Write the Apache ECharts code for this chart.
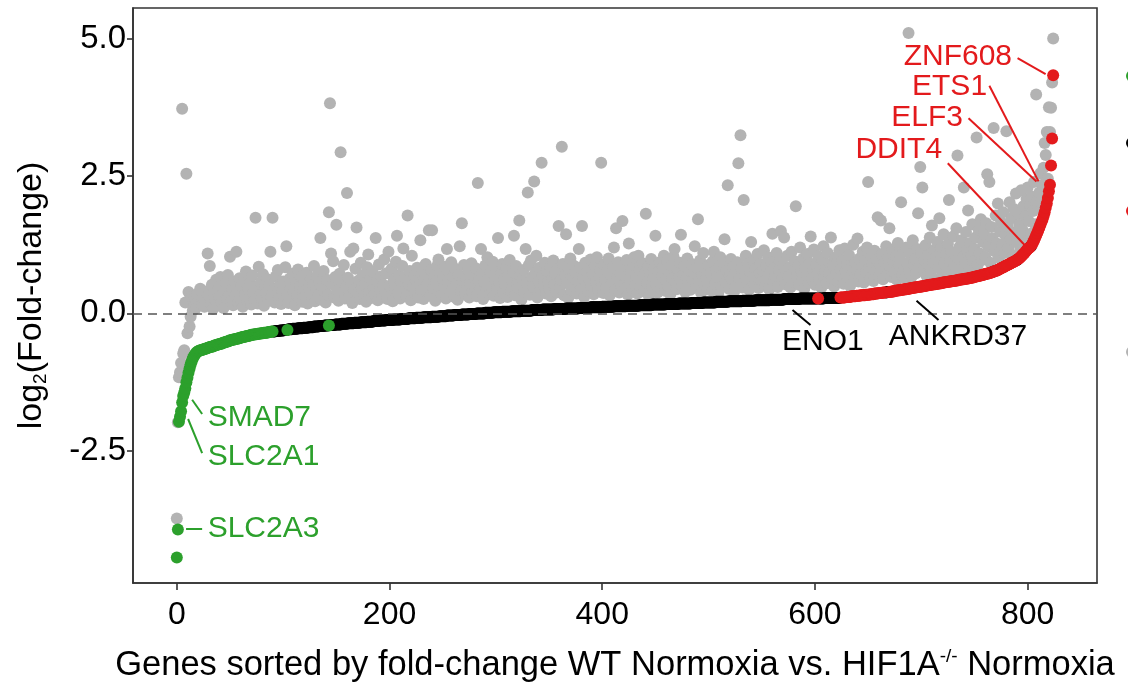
<!DOCTYPE html>
<html><head><meta charset="utf-8">
<script src="https://cdn.jsdelivr.net/npm/echarts@6/dist/echarts.min.js"></script>
<style>html,body{margin:0;padding:0;background:#fff}#c{width:1128px;height:685px}</style>
</head><body><div id="c"></div>
<script>
// log2 fold-change WT Normoxia vs HIF1A-/- Normoxia, genes sorted (rank 0..824)
const sortedFC = [
-4.44,-3.93,-1.97,-1.88,-1.78,-1.62,-1.50,-1.44,-1.36,-1.25,-1.17,-1.08,-1.00,-0.93,-0.87,-0.82,-0.78,-0.75,-0.72,-0.70,-0.69,-0.68,-0.67,-0.67,-0.66,
-0.65,-0.65,-0.64,-0.64,-0.63,-0.62,-0.61,-0.61,-0.60,-0.60,-0.59,-0.58,-0.58,-0.57,-0.56,-0.56,-0.55,-0.55,-0.54,-0.53,-0.53,-0.52,-0.51,-0.51,-0.50,
-0.49,-0.49,-0.48,-0.48,-0.47,-0.47,-0.46,-0.46,-0.45,-0.45,-0.44,-0.44,-0.43,-0.43,-0.42,-0.42,-0.41,-0.41,-0.40,-0.40,-0.39,-0.39,-0.39,-0.38,-0.38,
-0.38,-0.37,-0.37,-0.37,-0.36,-0.36,-0.36,-0.35,-0.35,-0.35,-0.35,-0.34,-0.34,-0.34,-0.33,-0.33,-0.33,-0.33,-0.32,-0.32,-0.32,-0.32,-0.31,-0.31,-0.31,
-0.31,-0.30,-0.30,-0.30,-0.30,-0.29,-0.29,-0.29,-0.29,-0.28,-0.28,-0.28,-0.28,-0.28,-0.27,-0.27,-0.27,-0.27,-0.27,-0.26,-0.26,-0.26,-0.26,-0.26,-0.25,
-0.25,-0.25,-0.25,-0.25,-0.24,-0.24,-0.24,-0.24,-0.24,-0.23,-0.23,-0.23,-0.23,-0.23,-0.22,-0.22,-0.22,-0.22,-0.22,-0.21,-0.21,-0.21,-0.21,-0.21,-0.20,
-0.20,-0.20,-0.20,-0.20,-0.20,-0.19,-0.19,-0.19,-0.19,-0.19,-0.19,-0.18,-0.18,-0.18,-0.18,-0.18,-0.18,-0.17,-0.17,-0.17,-0.17,-0.17,-0.17,-0.16,-0.16,
-0.16,-0.16,-0.16,-0.16,-0.15,-0.15,-0.15,-0.15,-0.15,-0.15,-0.14,-0.14,-0.14,-0.14,-0.14,-0.14,-0.13,-0.13,-0.13,-0.13,-0.13,-0.13,-0.12,-0.12,-0.12,
-0.12,-0.12,-0.12,-0.12,-0.11,-0.11,-0.11,-0.11,-0.11,-0.11,-0.11,-0.10,-0.10,-0.10,-0.10,-0.10,-0.10,-0.10,-0.09,-0.09,-0.09,-0.09,-0.09,-0.09,-0.09,
-0.08,-0.08,-0.08,-0.08,-0.08,-0.08,-0.08,-0.07,-0.07,-0.07,-0.07,-0.07,-0.07,-0.07,-0.07,-0.06,-0.06,-0.06,-0.06,-0.06,-0.06,-0.06,-0.05,-0.05,-0.05,
-0.05,-0.05,-0.05,-0.05,-0.04,-0.04,-0.04,-0.04,-0.04,-0.04,-0.04,-0.03,-0.03,-0.03,-0.03,-0.03,-0.03,-0.03,-0.02,-0.02,-0.02,-0.02,-0.02,-0.02,-0.02,
-0.01,-0.01,-0.01,-0.01,-0.01,-0.01,-0.01,0.00,0.00,0.00,0.00,0.00,0.00,0.00,0.00,0.01,0.01,0.01,0.01,0.01,0.01,0.01,0.01,0.02,0.02,
0.02,0.02,0.02,0.02,0.02,0.02,0.03,0.03,0.03,0.03,0.03,0.03,0.03,0.03,0.03,0.04,0.04,0.04,0.04,0.04,0.04,0.04,0.04,0.04,0.05,
0.05,0.05,0.05,0.05,0.05,0.05,0.05,0.05,0.05,0.06,0.06,0.06,0.06,0.06,0.06,0.06,0.06,0.06,0.06,0.07,0.07,0.07,0.07,0.07,0.07,
0.07,0.07,0.07,0.07,0.07,0.08,0.08,0.08,0.08,0.08,0.08,0.08,0.08,0.08,0.08,0.08,0.09,0.09,0.09,0.09,0.09,0.09,0.09,0.09,0.09,
0.09,0.09,0.09,0.10,0.10,0.10,0.10,0.10,0.10,0.10,0.10,0.10,0.10,0.10,0.11,0.11,0.11,0.11,0.11,0.11,0.11,0.11,0.11,0.11,0.11,
0.12,0.12,0.12,0.12,0.12,0.12,0.12,0.12,0.12,0.12,0.12,0.13,0.13,0.13,0.13,0.13,0.13,0.13,0.13,0.13,0.13,0.13,0.13,0.14,0.14,
0.14,0.14,0.14,0.14,0.14,0.14,0.14,0.14,0.14,0.14,0.15,0.15,0.15,0.15,0.15,0.15,0.15,0.15,0.15,0.15,0.15,0.15,0.16,0.16,0.16,
0.16,0.16,0.16,0.16,0.16,0.16,0.16,0.16,0.16,0.16,0.17,0.17,0.17,0.17,0.17,0.17,0.17,0.17,0.17,0.17,0.17,0.17,0.18,0.18,0.18,
0.18,0.18,0.18,0.18,0.18,0.18,0.18,0.18,0.18,0.19,0.19,0.19,0.19,0.19,0.19,0.19,0.19,0.19,0.19,0.19,0.20,0.20,0.20,0.20,0.20,
0.20,0.20,0.20,0.20,0.20,0.20,0.20,0.21,0.21,0.21,0.21,0.21,0.21,0.21,0.21,0.21,0.21,0.21,0.21,0.22,0.22,0.22,0.22,0.22,0.22,
0.22,0.22,0.22,0.22,0.22,0.22,0.22,0.23,0.23,0.23,0.23,0.23,0.23,0.23,0.23,0.23,0.23,0.23,0.23,0.24,0.24,0.24,0.24,0.24,0.24,
0.24,0.24,0.24,0.24,0.24,0.24,0.24,0.24,0.25,0.25,0.25,0.25,0.25,0.25,0.25,0.25,0.25,0.25,0.25,0.25,0.25,0.26,0.26,0.26,0.26,
0.26,0.26,0.26,0.26,0.26,0.26,0.26,0.26,0.26,0.26,0.26,0.27,0.27,0.27,0.27,0.27,0.27,0.27,0.27,0.27,0.27,0.27,0.27,0.27,0.27,
0.27,0.27,0.27,0.27,0.27,0.27,0.27,0.27,0.27,0.28,0.28,0.28,0.28,0.28,0.28,0.28,0.28,0.28,0.28,0.28,0.28,0.28,0.28,0.28,0.29,
0.29,0.29,0.29,0.29,0.30,0.30,0.30,0.30,0.30,0.31,0.31,0.31,0.31,0.31,0.32,0.32,0.32,0.32,0.33,0.33,0.33,0.33,0.33,0.34,0.34,
0.34,0.34,0.35,0.35,0.35,0.35,0.36,0.36,0.36,0.36,0.37,0.37,0.37,0.37,0.38,0.38,0.38,0.38,0.39,0.39,0.39,0.39,0.40,0.40,0.40,
0.41,0.41,0.41,0.42,0.42,0.42,0.43,0.43,0.43,0.44,0.44,0.44,0.45,0.45,0.45,0.46,0.46,0.46,0.47,0.47,0.47,0.48,0.48,0.48,0.49,
0.49,0.49,0.50,0.50,0.50,0.51,0.51,0.51,0.52,0.52,0.52,0.53,0.53,0.53,0.54,0.54,0.54,0.55,0.55,0.55,0.56,0.56,0.56,0.57,0.57,
0.57,0.58,0.58,0.58,0.59,0.59,0.59,0.60,0.60,0.60,0.61,0.61,0.61,0.62,0.62,0.62,0.63,0.63,0.63,0.64,0.64,0.65,0.65,0.65,0.66,
0.66,0.67,0.67,0.68,0.68,0.69,0.69,0.70,0.70,0.71,0.71,0.72,0.72,0.73,0.73,0.74,0.75,0.75,0.76,0.77,0.77,0.78,0.79,0.80,0.81,
0.82,0.83,0.84,0.85,0.86,0.87,0.88,0.89,0.90,0.91,0.92,0.93,0.94,0.95,0.96,0.97,0.99,1.00,1.02,1.04,1.06,1.08,1.10,1.12,1.15,
1.17,1.19,1.20,1.22,1.25,1.29,1.33,1.37,1.42,1.46,1.51,1.56,1.61,1.66,1.71,1.77,1.84,1.92,2.00,2.10,2.22,2.34,2.69,3.18,4.33
];
// log2 fold-change of the same genes in the second comparison (grey points)
const otherFC = [
-3.73,-1.98,-1.16,-1.07,-0.90,3.72,-0.73,-0.67,0.20,2.54,-0.36,0.39,-0.24,-0.06,0.30,0.05,0.12,0.28,0.10,0.35,0.22,0.18,0.45,0.30,0.15,
0.28,0.12,0.40,0.22,1.09,0.33,0.86,0.18,0.52,0.08,0.36,0.25,0.61,0.14,0.44,0.30,0.66,0.20,0.48,0.10,0.38,0.57,0.26,0.70,0.34,
1.03,0.22,0.45,0.15,0.58,0.31,1.12,0.40,0.19,0.64,0.27,0.50,0.12,0.60,0.35,0.76,0.21,0.47,0.29,0.55,0.16,0.69,0.38,0.24,1.74,
0.42,0.18,0.85,0.33,0.56,0.26,0.71,0.14,0.48,0.37,0.62,0.23,0.51,1.12,0.30,1.74,0.44,0.20,0.67,0.35,0.79,0.28,0.53,0.17,0.41,
0.58,0.25,0.84,1.22,0.36,0.19,0.63,0.45,0.29,0.72,0.38,0.15,0.55,0.32,0.80,0.24,0.49,0.66,0.21,0.43,0.58,0.31,0.74,0.18,0.47,
0.35,0.62,0.27,0.51,0.86,0.22,0.44,0.69,0.33,0.57,1.37,0.25,0.48,0.77,0.39,0.20,0.61,0.34,1.84,3.82,1.09,0.53,0.95,0.29,0.66,
1.61,0.41,0.23,0.72,2.93,0.36,0.58,0.88,0.27,0.49,2.19,0.65,0.31,1.12,0.54,0.19,1.18,0.43,0.81,1.56,0.37,0.60,0.26,0.92,0.46,
0.70,0.32,0.55,0.21,0.84,1.07,0.40,0.63,0.28,0.76,0.47,0.35,1.37,0.59,0.24,0.89,0.44,0.67,0.30,0.52,0.98,0.38,0.73,0.26,1.12,
0.50,0.33,0.81,0.22,0.61,0.45,0.94,1.41,0.37,0.70,0.27,0.56,0.86,1.18,0.42,0.65,0.31,1.78,0.53,0.77,0.24,1.05,0.48,0.68,0.36,
0.59,0.83,0.29,0.51,1.33,0.41,0.72,0.26,0.63,0.90,0.38,0.55,1.51,0.32,0.79,1.51,0.46,0.66,0.23,0.58,0.87,0.98,0.40,0.71,0.34,
0.62,0.48,0.85,0.27,1.17,0.56,0.74,0.36,0.93,0.44,0.67,0.30,0.81,0.52,0.25,0.70,1.22,0.41,1.64,0.59,0.88,0.34,0.63,0.47,0.78,
0.29,0.55,0.91,0.39,0.68,0.50,0.82,0.31,2.37,0.60,0.45,1.17,0.73,0.26,0.57,0.87,0.42,1.02,0.64,0.35,0.76,0.49,0.94,0.32,0.61,
0.80,0.44,1.37,0.58,0.28,0.71,0.90,0.37,0.63,0.52,0.84,0.30,0.67,0.97,0.41,0.59,0.75,1.41,0.33,0.86,0.54,0.46,1.69,0.69,0.25,
0.62,0.79,0.40,1.17,0.55,2.20,0.88,0.34,0.96,0.66,0.48,2.40,0.73,1.05,0.29,0.59,0.83,0.43,2.74,0.68,0.51,0.92,0.36,0.77,0.57,
0.45,0.85,0.31,0.64,0.96,0.52,0.72,0.38,0.81,1.59,0.47,0.61,3.03,0.90,0.33,0.70,1.44,0.55,0.28,0.78,1.00,0.42,0.66,0.87,0.50,
0.74,0.36,0.59,1.17,0.83,0.44,1.59,0.67,0.30,0.92,0.54,0.76,0.40,0.63,0.98,0.49,0.71,0.35,0.86,0.57,1.02,0.43,0.68,0.80,2.74,
0.52,0.37,0.89,0.61,0.46,0.78,1.00,0.33,0.69,0.55,0.84,1.20,0.42,1.55,0.64,0.93,0.38,0.72,0.50,1.68,0.81,0.45,0.66,0.97,0.34,
1.27,0.58,0.75,0.43,0.88,1.02,0.52,0.67,0.36,1.05,0.79,0.48,0.62,0.91,0.40,0.73,1.81,0.56,0.85,0.31,0.70,0.99,0.47,0.64,0.82,
1.41,0.54,0.38,0.77,0.93,0.46,0.68,0.84,1.05,0.41,0.60,0.96,0.50,0.73,0.35,0.87,0.63,1.03,1.17,0.57,0.44,0.80,0.66,0.92,1.43,
0.49,0.71,0.86,0.39,0.64,1.00,0.55,0.78,0.43,0.90,0.61,0.74,1.22,0.47,0.83,1.71,0.58,0.96,0.37,0.69,1.10,0.52,0.81,0.64,0.44,
0.88,0.60,0.73,0.41,0.95,1.12,0.53,0.79,0.66,0.36,0.85,1.02,0.48,0.71,0.92,1.35,0.57,0.77,2.33,0.45,0.68,0.99,0.62,0.84,0.40,
0.74,0.55,0.93,2.73,0.63,3.24,0.82,0.47,2.06,0.70,1.05,0.58,0.89,0.43,0.76,1.30,0.61,0.97,0.52,0.81,0.67,1.08,0.46,0.73,0.90,
0.59,0.78,1.15,0.50,0.86,0.64,1.02,0.44,0.75,0.92,1.45,0.57,0.83,0.69,1.10,0.48,0.79,0.96,1.50,0.62,0.88,1.38,0.53,0.72,1.05,
0.66,0.84,0.47,1.12,0.73,0.58,0.95,1.95,0.69,0.87,0.52,1.20,0.77,0.61,1.00,0.45,0.82,0.70,1.08,0.56,0.91,1.40,0.64,0.79,1.16,
0.52,0.88,0.71,1.04,0.60,0.83,0.47,0.97,1.22,0.66,0.78,0.55,1.10,0.74,0.90,1.38,0.62,0.85,0.49,1.01,0.72,0.93,0.58,1.15,0.80,
0.67,0.96,0.54,1.18,0.76,0.89,0.61,1.06,0.50,0.84,0.72,1.25,0.63,0.92,0.79,1.36,0.58,1.00,0.70,0.86,1.12,0.56,0.95,0.75,1.20,
2.39,0.82,0.64,1.03,0.90,0.59,1.14,0.77,0.97,1.75,0.68,0.88,1.69,1.08,0.62,0.93,0.80,1.22,0.71,1.01,1.55,0.85,0.66,1.16,0.94,
0.74,1.05,0.61,1.28,0.87,0.98,2.02,0.70,1.12,0.83,0.64,1.20,0.92,5.10,0.78,1.07,0.67,1.33,0.89,1.00,0.73,1.17,1.82,0.85,2.66,
1.10,2.29,0.79,0.96,1.24,0.68,1.05,0.88,1.38,0.74,1.60,0.93,1.15,0.62,1.02,1.30,0.83,1.73,0.97,1.19,0.71,1.44,0.90,1.08,0.77,
1.26,2.06,0.95,1.12,0.73,1.40,0.87,1.05,1.55,2.87,0.99,1.21,0.80,1.33,1.02,2.29,0.91,1.48,1.14,1.87,0.78,1.28,1.06,1.62,0.94,
1.17,1.38,3.20,0.88,1.52,1.09,1.71,0.97,1.30,1.45,1.03,1.64,2.53,1.22,2.39,0.92,1.57,1.36,3.37,1.13,1.78,1.27,2.00,1.01,1.49,
1.66,1.25,1.84,1.10,1.42,3.31,1.58,1.19,2.02,1.35,1.73,1.05,1.90,1.47,2.18,1.29,1.81,1.61,1.15,2.24,1.52,1.95,1.38,1.76,2.08,
2.29,1.68,1.97,1.45,2.12,1.86,2.39,1.62,3.98,2.05,1.92,2.20,2.55,2.01,2.34,2.65,3.10,2.88,3.30,2.45,3.75,3.30,3.74,4.20,5.00
];
// rank ranges of significantly down (green) and up (red) genes
const downRanges = [[0,90],[104,104],[143,143]];
const upRanges = [[603,603],[624,666],[670,767],[769,789],[791,802],[804,824]];
const xTickValues = [0,200,400,600,800];
const yTickValues = [-2.5,0,2.5,5];
const labelledGenes = ['ZNF608','ETS1','ELF3','DDIT4','ENO1','ANKRD37','SMAD7','SLC2A1','SLC2A3'];

// ---- layout of the gene annotations (data units) ----
const annotationLayout = {
  ZNF608: {c:'#e31a1c', at:[785.8,4.66], pos:'left',   line:[[790.5,4.64],[816.9,4.35]]},
  ETS1:   {c:'#e31a1c', at:[762.3,4.12], pos:'left',   line:[[764.0,4.14],[810.2,2.40]]},
  ELF3:   {c:'#e31a1c', at:[739.7,3.55], pos:'left',   line:[[744.4,3.55],[808.3,2.40]]},
  DDIT4:  {c:'#e31a1c', at:[720.0,2.97], pos:'left',   line:[[724.9,2.73],[797.3,1.24]]},
  ENO1:   {c:'#000000', at:[607.5,-0.52], pos:'inside', line:[[578.9,0.06],[595.8,-0.21]]},
  ANKRD37:{c:'#000000', at:[734.5,-0.43], pos:'inside', line:[[695.5,0.23],[716.2,-0.12]]},
  SMAD7:  {c:'#2ca02c', at:[28.5,-1.90], pos:'right',  line:[[14.4,-1.57],[23.8,-1.83]]},
  SLC2A1: {c:'#2ca02c', at:[28.5,-2.61], pos:'right',  line:[[10.6,-1.92],[23.8,-2.54]]},
  SLC2A3: {c:'#2ca02c', at:[28.5,-3.92], pos:'right',  line:[[8.7,-3.92],[23.8,-3.92]]}
};

const inRanges = (i, rs) => rs.some(r => i >= r[0] && i <= r[1]);
const greyPts = otherFC.map((v,i) => [i,v]);
const downPts = [], upPts = [], nsPts = [];
sortedFC.forEach((v,i) => {
  if (inRanges(i, downRanges)) downPts.push([i,v]);
  else if (inRanges(i, upRanges)) upPts.push([i,v]);
  else nsPts.push([i,v]);
});

const FONT = "'Liberation Sans', Arial, Helvetica, sans-serif";
const DOT = 12;
const chart = echarts.init(document.getElementById('c'), null, {renderer:'canvas'});
chart.setOption({
  animation: false,
  backgroundColor: '#ffffff',
  textStyle: {fontFamily: FONT},
  grid: {left: 133, right: 31, top: 8, bottom: 102, show: true, borderColor: '#333333', borderWidth: 1.6,
         backgroundColor: 'transparent', containLabel: false, outerBoundsMode: 'none'},
  // partially visible legend keys at the right edge of the figure
  graphic: [
    {type:'circle', right: -10, top: 70, shape:{r:6}, style:{fill:'#2ca02c'}, silent:true},
    {type:'circle', right: -10, top: 137, shape:{r:6}, style:{fill:'#000000'}, silent:true},
    {type:'circle', right: -10, top: 205, shape:{r:6}, style:{fill:'#e31a1c'}, silent:true},
    {type:'circle', right: -10, top: 346, shape:{r:6}, style:{fill:'#b3b3b3'}, silent:true}
  ],
  xAxis: {
    type: 'value', min: -41.2, max: 865.2,
    name: 'Genes sorted by fold-change WT Normoxia vs. HIF1A{sup|-/-} Normoxia',
    nameLocation: 'middle', nameGap: 64,
    nameTextStyle: {fontSize: 34.5, color: '#000', fontFamily: FONT,
      rich: {sup: {fontSize: 19, color:'#000', fontFamily: FONT, padding: [0,0,18,0]}}},
    axisLine: {show: true, onZero: false, lineStyle: {color: '#333333', width: 1.6}},
    axisTick: {show: true, length: 7, lineStyle: {color: '#333333', width: 1.6}, customValues: xTickValues},
    axisLabel: {fontSize: 32, color: '#000', margin: 16, fontFamily: FONT, customValues: xTickValues},
    splitLine: {show: false}
  },
  yAxis: {
    type: 'value', min: -4.902, max: 5.553,
    name: 'log{sub|2}(Fold-change)',
    nameLocation: 'middle', nameGap: 83,
    nameTextStyle: {fontSize: 34, color: '#000', fontFamily: FONT,
      rich: {sub: {fontSize: 19, color:'#000', fontFamily: FONT, padding: [18,0,0,0]}}},
    axisLine: {show: true, onZero: false, lineStyle: {color: '#333333', width: 1.6}},
    axisTick: {show: true, length: 6, lineStyle: {color: '#333333', width: 1.6}, customValues: yTickValues},
    axisLabel: {fontSize: 33, color: '#000', margin: 7, fontFamily: FONT, customValues: yTickValues,
      formatter: v => v.toFixed(1)},
    splitLine: {show: false}
  },
  series: [
    {name:'Other comparison', type:'scatter', data: greyPts, symbolSize: DOT, z: 2,
     itemStyle:{color:'#b3b3b3', opacity:1}, silent:true},
    {name:'zero', type:'scatter', data: [], z: 3, silent:true,
     markLine: {silent:true, symbol:['none','none'], label:{show:false},
       lineStyle:{color:'#555555', type:[9,6], width:1.6, opacity:1}, data:[{yAxis:0}]}},
    {name:'Not significant', type:'scatter', data: nsPts, symbolSize: DOT, z: 4,
     itemStyle:{color:'#000000', opacity:1}, silent:true},
    {name:'Down-regulated', type:'scatter', data: downPts, symbolSize: DOT, z: 5,
     itemStyle:{color:'#2ca02c', opacity:1}, silent:true},
    {name:'Up-regulated', type:'scatter', data: upPts, symbolSize: DOT, z: 5,
     itemStyle:{color:'#e31a1c', opacity:1}, silent:true},
    {name:'labels', type:'scatter', z: 6, silent:true, symbolSize: 1,
     itemStyle:{color:'rgba(0,0,0,0)', opacity:1},
     data: labelledGenes.map(g => ({
        name: g, value: annotationLayout[g].at,
        label: {show:true, formatter: g, position: annotationLayout[g].pos, distance: 0,
                fontSize: 30, fontFamily: FONT, color: annotationLayout[g].c, opacity:1}
     })),
     markLine: {silent:true, symbol:['none','none'], label:{show:false},
       data: labelledGenes.map(g => [
         {coord: annotationLayout[g].line[0], lineStyle:{color: annotationLayout[g].c, width:2, type:'solid', opacity:1}},
         {coord: annotationLayout[g].line[1]}
       ])}
    }
  ]
});
</script></body></html>
